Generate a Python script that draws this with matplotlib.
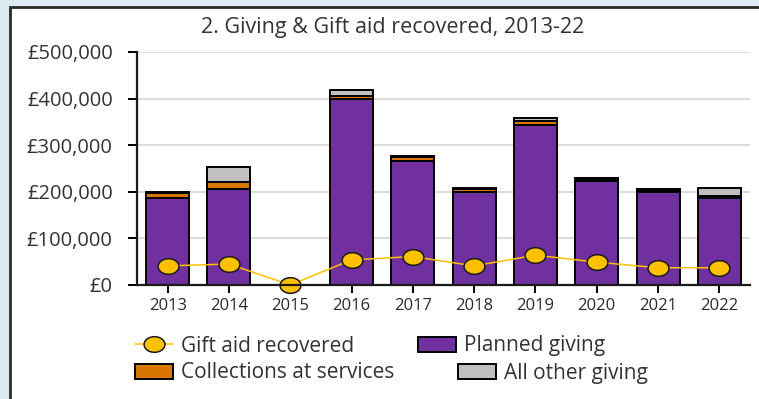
import matplotlib
matplotlib.use("Agg")
import matplotlib.pyplot as plt
import numpy as np
from matplotlib.patches import Rectangle, Patch
from matplotlib.lines import Line2D
from matplotlib.path import Path
from matplotlib.ticker import FuncFormatter, MultipleLocator

plt.rcParams['font.family'] = ['Open Sans', 'DejaVu Sans']

years = ['2013', '2014', '2015', '2016', '2017', '2018', '2019', '2020', '2021', '2022']
planned_giving = [186000, 207000, 0, 400000, 267000, 199000, 343000, 223000, 200000, 187000]
collections = [11000, 14000, 0, 6000, 8000, 7000, 10000, 3000, 2000, 3000]
other_giving = [3000, 32000, 0, 12000, 2000, 3000, 5000, 3000, 3000, 19000]
gift_aid = [41000, 45000, 0, 54000, 61000, 41000, 64000, 49000, 37000, 37000]

PURPLE = '#7030A0'
ORANGE = '#D97600'
GREY = '#C0C0C0'
GOLD = '#FFC000'
BG = '#DCEBF3'
TXT = '#333333'

W, H = 759, 399
fig = plt.figure(figsize=(W / 100, H / 100), dpi=100)
fig.patch.set_facecolor(BG)

# white panel with dark frame, behind everything else
panel = Rectangle((10 / W, -0.05), 1.1, 1 - 7 / H + 0.05, transform=fig.transFigure,
                  facecolor='white', edgecolor='#2a2a2a', linewidth=2, zorder=-5)
fig.patches.append(panel)

ax = fig.add_axes([137 / W, 1 - 285 / H, (750 - 137) / W, (285 - 52) / H])
ax.set_facecolor('none')
ax.set_zorder(2)

x = np.arange(len(years))
pg = np.array(planned_giving)
co = np.array(collections)
ot = np.array(other_giving)

bw = 0.7
ekw = dict(edgecolor='black', linewidth=1.4, zorder=3)
ax.bar(x, pg, bw, color=PURPLE, **ekw)
ax.bar(x, co, bw, bottom=pg, color=ORANGE, **ekw)
ax.bar(x, ot, bw, bottom=pg + co, color=GREY, **ekw)

# slightly flattened circle marker
t = np.linspace(0, 2 * np.pi, 60)
ell = Path(np.column_stack([np.cos(t), 0.75 * np.sin(t)]), closed=True)
ax.plot(x, gift_aid, color=GOLD, linewidth=1.1, marker=ell, markersize=15,
        markerfacecolor=GOLD, markeredgecolor='#1a1a1a', markeredgewidth=1.1,
        zorder=5, clip_on=False)

ax.set_xlim(-0.5, len(years) - 0.5)
ax.set_ylim(0, 500000)
ax.yaxis.set_major_locator(MultipleLocator(100000))
ax.yaxis.set_major_formatter(FuncFormatter(lambda v, p: f'£{int(v):,}'))
ax.set_xticks(x)
ax.set_xticklabels(years)
ax.grid(axis='y', color='#dcdcdc', linewidth=1.5, zorder=0)
ax.set_axisbelow(True)

for s in ['top', 'right']:
    ax.spines[s].set_visible(False)
for s in ['left', 'bottom']:
    ax.spines[s].set_linewidth(1.6)
    ax.spines[s].set_color('#1a1a1a')
    ax.spines[s].set_zorder(6)

ax.tick_params(axis='y', length=6.5, width=1.4, pad=11, labelsize=14.5, labelcolor=TXT)
ax.tick_params(axis='x', length=5.5, width=1.4, pad=4, labelsize=12, labelcolor='#2a2a2a')

fig.text(393 / W, 1 - 28 / H, '2. Giving & Gift aid recovered, 2013-22',
         ha='center', va='center', fontsize=15.5, color=TXT)

h_gift = Line2D([], [], color=GOLD, linewidth=1.1, marker=ell, markersize=15,
                markerfacecolor=GOLD, markeredgecolor='#1a1a1a', markeredgewidth=1.1)
h_plan = Patch(facecolor=PURPLE, edgecolor='black', linewidth=1.4)
h_coll = Patch(facecolor=ORANGE, edgecolor='black', linewidth=1.4)
h_oth = Patch(facecolor=GREY, edgecolor='black', linewidth=1.4)

lkw = dict(ncol=2, frameon=False, borderpad=0, borderaxespad=0, loc='center left',
           fontsize=15, handlelength=1.83, handleheight=0.72, handletextpad=0.38,
           columnspacing=3.05, labelcolor=TXT)
leg1 = fig.legend([h_gift, h_plan], ['Gift aid recovered', 'Planned giving'],
                  bbox_to_anchor=(135 / W, 1 - 346 / H), **lkw)
leg2 = fig.legend([h_coll, h_oth], ['Collections at services', 'All other giving'],
                  bbox_to_anchor=(135 / W, 1 - 373 / H), **lkw)

fig.savefig('out.png', dpi=100, facecolor=fig.get_facecolor())
